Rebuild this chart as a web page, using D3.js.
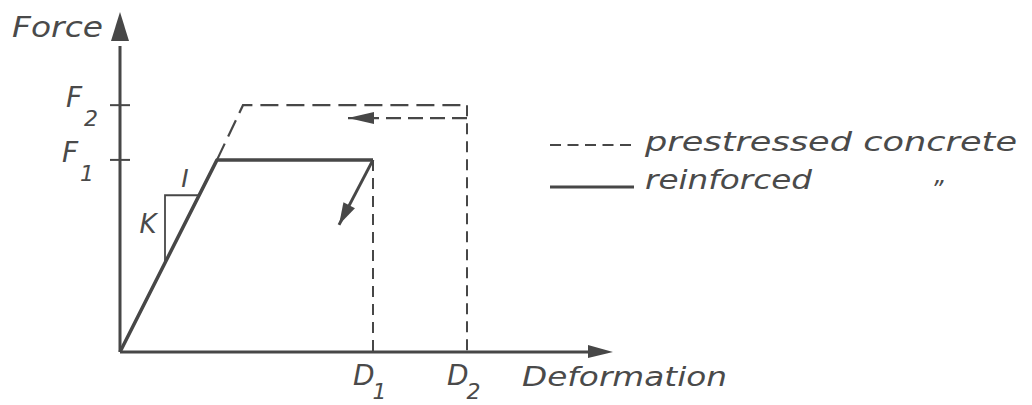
<!DOCTYPE html>
<html><head><meta charset="utf-8">
<script src="https://cdn.jsdelivr.net/npm/d3@7/dist/d3.min.js"></script>
<style>
html,body{margin:0;padding:0;background:#fff;}
svg text{font-family:"DejaVu Sans",sans-serif;font-style:italic;fill:#4a4a4a;}
</style></head>
<body>
<svg id="c" width="1032" height="405"></svg>
<script>
// ---- data (schematic units) ----
const forceLevels = [56.5, 72.6];          // F1, F2
const forceLabels = ["F", "F"];
const forceSubs = ["1", "2"];
const deformations = [50.6, 69.4];         // D1, D2
const deformLabels = ["D", "D"];
const deformSubs = ["1", "2"];
const reinforced = [[0, 0], [19.4, 56.5], [50.6, 56.5]];
const prestressed = [[19.4, 56.5], [24.6, 72.6], [69.4, 72.6]];
const prestressedUnload = [[69.4, 68.8], [45.6, 68.8]];
const reinforcedUnload = [[50.6, 56.5], [43.8, 37.4]];
const stiffnessTri = [[9.0, 26.3], [9.0, 46.1], [15.6, 46.1]];
const legendNames = ["prestressed concrete", "reinforced"];
const axisTitles = ["Force", "Deformation"];

const ink = "#474747";
const svg = d3.select("#c");
const x = d3.scaleLinear().domain([0, 98.6]).range([120, 613]);
const y = d3.scaleLinear().domain([0, 100]).range([352, 12]);
const line = d3.line().x(d => x(d[0])).y(d => y(d[1]));

// axes
svg.append("line").attr("x1", x(0)).attr("y1", y(0)).attr("x2", x(0)).attr("y2", y(90))
  .attr("stroke", ink).attr("stroke-width", 3);
svg.append("path").attr("d", `M${x(0)},${y(100)} L${x(0)-9},${y(91.5)} L${x(0)+9},${y(91.5)} Z`).attr("fill", ink);
svg.append("line").attr("x1", x(0)).attr("y1", y(0)).attr("x2", x(95)).attr("y2", y(0))
  .attr("stroke", ink).attr("stroke-width", 3);
svg.append("path").attr("d", `M${x(98.6)},${y(0)} L${x(93.6)},${y(0)-7} L${x(93.6)},${y(0)+6} Z`).attr("fill", ink);

// ticks
forceLevels.forEach(f => {
  svg.append("line").attr("x1", x(0)-10).attr("x2", x(0)+10).attr("y1", y(f)).attr("y2", y(f))
    .attr("stroke", ink).attr("stroke-width", 2);
});

// dashed verticals
const dl = [[deformations[0], forceLevels[0]], [deformations[1], forceLevels[1]]];
dl.forEach(d => {
  svg.append("line").attr("x1", x(d[0])).attr("x2", x(d[0])).attr("y1", y(d[1])).attr("y2", y(0))
    .attr("stroke", ink).attr("stroke-width", 2).attr("stroke-dasharray", "11,7");
});

// prestressed
svg.append("path").attr("d", line(prestressed)).attr("fill", "none").attr("stroke", ink)
  .attr("stroke-width", 2.2).attr("stroke-dasharray", "18,8");
svg.append("path").attr("d", line(prestressedUnload)).attr("fill", "none").attr("stroke", ink)
  .attr("stroke-width", 2.2).attr("stroke-dasharray", "15,7");
{
  const t = prestressedUnload[1];
  const tx = x(t[0]), ty = y(t[1]);
  svg.append("path").attr("d", `M${tx},${ty} L${tx+26},${ty-6} L${tx+26},${ty+6} Z`).attr("fill", ink);
}

// reinforced
svg.append("path").attr("d", line(reinforced)).attr("fill", "none").attr("stroke", ink)
  .attr("stroke-width", 3.5).attr("stroke-linejoin", "round");
svg.append("path").attr("d", line(reinforcedUnload)).attr("fill", "none").attr("stroke", ink)
  .attr("stroke-width", 3);
{
  const a = reinforcedUnload[0], b = reinforcedUnload[1];
  const ax = x(a[0]), ay = y(a[1]), bx = x(b[0]), by = y(b[1]);
  const ang = Math.atan2(by - ay, bx - ax);
  const L = 22, W = 6.5;
  const px = bx - L * Math.cos(ang), py = by - L * Math.sin(ang);
  const nx = -Math.sin(ang) * W, ny = Math.cos(ang) * W;
  svg.append("path").attr("d", `M${bx},${by} L${px+nx},${py+ny} L${px-nx},${py-ny} Z`).attr("fill", ink);
}

// stiffness triangle
svg.append("path").attr("d", line(stiffnessTri)).attr("fill", "none").attr("stroke", ink).attr("stroke-width", 1.8);
svg.append("text").attr("x", 148).attr("y", 233).attr("font-size", 26).attr("text-anchor", "middle").text("K");
svg.append("text").attr("x", 185).attr("y", 187).attr("font-size", 25).attr("text-anchor", "middle").text("I");

// axis titles
svg.append("text").attr("x", 12).attr("y", 37).attr("font-size", 28)
  .attr("textLength", 91).attr("lengthAdjust", "spacingAndGlyphs").text(axisTitles[0]);
svg.append("text").attr("x", 522).attr("y", 386).attr("font-size", 27)
  .attr("textLength", 205).attr("lengthAdjust", "spacingAndGlyphs").text(axisTitles[1]);

// force labels
const fOffsets = [{fx: 62, sx: 80}, {fx: 66, sx: 84}];
forceLevels.forEach((f, i) => {
  svg.append("text").attr("x", fOffsets[i].fx).attr("y", y(f) + 2).attr("font-size", 28).text(forceLabels[i]);
  svg.append("text").attr("x", fOffsets[i].sx).attr("y", y(f) + 21).attr("font-size", 22).text(forceSubs[i]);
});

// deformation labels
deformations.forEach((d, i) => {
  const t = svg.append("text").attr("x", x(d) - 20).attr("y", 385).attr("font-size", 28);
  t.append("tspan").text(deformLabels[i]);
  t.append("tspan").attr("dy", 14).attr("dx", -2).attr("font-size", 22).text(deformSubs[i]);
});

// legend
svg.append("line").attr("x1", 550).attr("x2", 634).attr("y1", 145).attr("y2", 145)
  .attr("stroke", ink).attr("stroke-width", 2.2).attr("stroke-dasharray", "11,6.5");
svg.append("line").attr("x1", 550).attr("x2", 634).attr("y1", 187).attr("y2", 187)
  .attr("stroke", ink).attr("stroke-width", 3.2);
svg.append("text").attr("x", 645).attr("y", 151).attr("font-size", 26)
  .attr("textLength", 372).attr("lengthAdjust", "spacingAndGlyphs").text(legendNames[0]);
svg.append("text").attr("x", 645).attr("y", 189).attr("font-size", 26)
  .attr("textLength", 167).attr("lengthAdjust", "spacingAndGlyphs").text(legendNames[1]);
svg.append("text").attr("x", 931).attr("y", 198).attr("font-size", 24).text("\u201D");
</script>
</body></html>
